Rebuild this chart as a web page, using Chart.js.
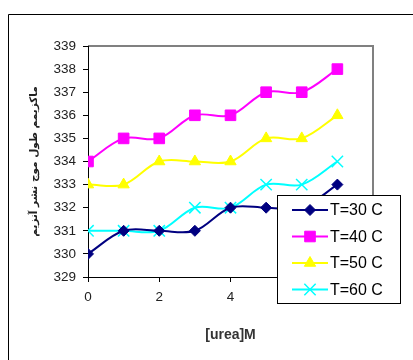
<!DOCTYPE html>
<html>
<head>
<meta charset="utf-8">
<script src="https://cdn.jsdelivr.net/npm/chart.js@4/dist/chart.umd.min.js"></script>
<style>
    html, body { margin: 0; padding: 0; background: #fff; }
    #wrap { position: relative; width: 413px; height: 360px; }
</style>
</head>
<body>
<div id="wrap"><canvas id="chart" width="413" height="360"></canvas></div>
<script>
// Data
const urea = [0, 1, 2, 3, 4, 5, 6, 7];
const t30 = [330, 331, 331, 331, 332, 332, 332, 333];
const t40 = [334, 335, 335, 336, 336, 337, 337, 338];
const t50 = [333, 333, 334, 334, 334, 335, 335, 336];
const t60 = [331, 331, 331, 332, 332, 333, 333, 334];
const seriesLabels = ['T=30 C', 'T=40 C', 'T=50 C', 'T=60 C'];
const xTicks = [0, 2, 4, 6, 8];
const yTicks = [329, 330, 331, 332, 333, 334, 335, 336, 337, 338, 339];

function points(ys) {
    return urea.map((x, i) => ({ x: x, y: ys[i] }));
}

// Outer frame, plot box (top/right gray) and legend box
const framePlugin = {
    id: 'frame',
    beforeDraw(chart) {
        const ctx = chart.ctx;
        ctx.save();
        ctx.fillStyle = '#fff';
        ctx.fillRect(0, 0, chart.width, chart.height);
        ctx.strokeStyle = '#000';
        ctx.lineWidth = 1;
        ctx.beginPath();
        ctx.moveTo(8.5, chart.height);
        ctx.lineTo(8.5, 14.5);
        ctx.lineTo(chart.width, 14.5);
        ctx.stroke();
        const a = chart.chartArea;
        ctx.strokeStyle = '#808080';
        ctx.lineWidth = 2;
        ctx.beginPath();
        ctx.moveTo(a.left, a.top);
        ctx.lineTo(a.right, a.top);
        ctx.lineTo(a.right, a.bottom);
        ctx.stroke();
        ctx.restore();
    },
    afterDraw(chart) {
        const ctx = chart.ctx;
        ctx.save();
        ctx.fillStyle = '#fff';
        ctx.fillRect(277, 195, 123, 108);
        ctx.strokeStyle = '#000';
        ctx.lineWidth = 1;
        ctx.strokeRect(277.5, 195.5, 123, 108);
        chart.data.datasets.forEach((ds, i) => {
            const y = 210 + 26.5 * i;
            ctx.strokeStyle = ds.borderColor;
            ctx.lineWidth = 2;
            ctx.beginPath();
            ctx.moveTo(292, y);
            ctx.lineTo(328, y);
            ctx.stroke();
            ctx.fillStyle = ds.pointBackgroundColor;
            ctx.strokeStyle = ds.pointBorderColor;
            ctx.lineWidth = ds.pointBorderWidth;
            Chart.helpers.drawPoint(ctx, {
                pointStyle: ds.pointStyle,
                radius: ds.pointRadius,
                rotation: 0,
                borderWidth: ds.pointBorderWidth
            }, 310, y);
            ctx.fillStyle = '#000';
            ctx.font = '16px "Liberation Sans", Arial, sans-serif';
            ctx.textBaseline = 'middle';
            ctx.fillText(ds.label, 330, y + 1);
        });
        ctx.restore();
    }
};

const ctx = document.getElementById('chart').getContext('2d');
const chart = new Chart(ctx, {
    type: 'line',
    data: {
        datasets: [
            {
                label: seriesLabels[0],
                data: points(t30),
                borderColor: '#000080',
                pointBackgroundColor: '#000080',
                pointBorderColor: '#000080',
                pointStyle: 'rectRot',
                pointRadius: 5.5,
                pointBorderWidth: 1
            },
            {
                label: seriesLabels[1],
                data: points(t40),
                borderColor: '#ff00ff',
                pointBackgroundColor: '#ff00ff',
                pointBorderColor: '#ff00ff',
                pointStyle: 'rect',
                pointRadius: 7.5,
                pointBorderWidth: 1
            },
            {
                label: seriesLabels[2],
                data: points(t50),
                borderColor: '#ffff00',
                pointBackgroundColor: '#ffff00',
                pointBorderColor: '#ffff00',
                pointStyle: 'triangle',
                pointRadius: 6.5,
                pointBorderWidth: 1
            },
            {
                label: seriesLabels[3],
                data: points(t60),
                borderColor: '#00ffff',
                pointBackgroundColor: '#00ffff',
                pointBorderColor: '#00ffff',
                pointStyle: 'crossRot',
                pointRadius: 8,
                pointBorderWidth: 1.5
            }
        ]
    },
    options: {
        responsive: false,
        animation: false,
        events: [],
        layout: { padding: { left: 0, top: 46, right: 40, bottom: 0 } },
        elements: {
            line: { borderWidth: 2, tension: 0.35, fill: false }
        },
        plugins: {
            legend: { display: false },
            tooltip: { enabled: false }
        },
        scales: {
            x: {
                type: 'linear',
                min: 0,
                max: 8,
                afterFit(scale) { scale.height = 83; },
                afterBuildTicks(scale) { scale.ticks = xTicks.map(v => ({ value: v })); },
                grid: { drawOnChartArea: false, tickLength: 5, color: '#000' },
                border: { color: '#000', width: 1 },
                ticks: {
                    padding: 7,
                    color: '#222',
                    font: { family: '"Liberation Sans", Arial, sans-serif', size: 13.5 }
                },
                title: {
                    display: true,
                    text: '[urea]M',
                    color: '#333',
                    padding: { top: 0, bottom: 16 },
                    font: { family: '"Liberation Sans", Arial, sans-serif', size: 14, weight: 'bold' }
                }
            },
            y: {
                min: 329,
                max: 339,
                afterFit(scale) { scale.width = 88; },
                afterBuildTicks(scale) { scale.ticks = yTicks.map(v => ({ value: v })); },
                grid: { drawOnChartArea: false, tickLength: 5, color: '#000' },
                border: { color: '#000', width: 1 },
                ticks: {
                    padding: 7,
                    color: '#222',
                    font: { family: '"Liberation Sans", Arial, sans-serif', size: 13.5 }
                },
                title: {
                    display: true,
                    text: 'ماكزيمم طول موج نشر آنزيم',
                    color: '#222',
                    padding: { top: 28, bottom: 0 },
                    font: { family: '"DejaVu Sans", sans-serif', size: 10.5, weight: 'bold' }
                }
            }
        }
    },
    plugins: [framePlugin]
});
</script>
</body>
</html>
